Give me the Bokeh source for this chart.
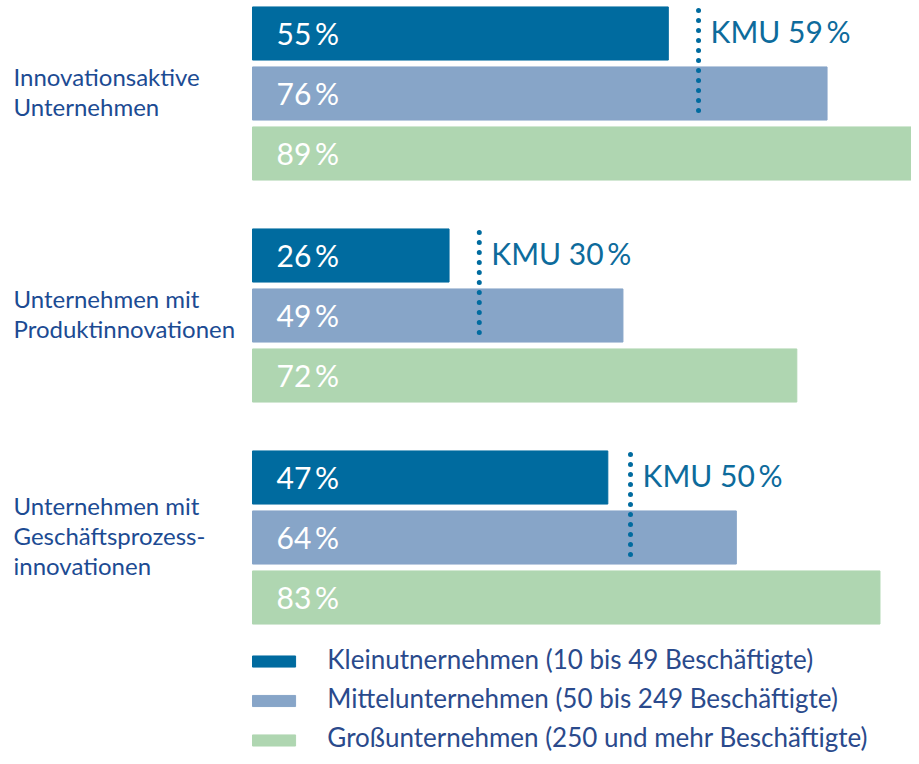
from bokeh.plotting import figure
from bokeh.models import Range1d, ColumnDataSource
from bokeh.core.properties import value
from bokeh.embed import file_html
from bokeh.resources import INLINE

# ---- data ----
categories = ["Innovationsaktive\nUnternehmen",
              "Unternehmen mit\nProduktinnovationen",
              "Unternehmen mit\nGeschäftsprozess-\ninnovationen"]
klein = [55, 26, 47]
mittel = [76, 49, 64]
gross = [89, 72, 83]
kmu = [59, 30, 50]
series_names = ["Kleinutnernehmen (10 bis 49 Beschäftigte)",
                "Mittelunternehmen (50 bis 249 Beschäftigte)",
                "Großunternehmen (250 und mehr Beschäftigte)"]
series_values = [klein, mittel, gross]
colors = ["#006b9f", "#87a5c8", "#afd6b1"]

# ---- layout ----
W, H = 911, 756
PX_PER_PCT = 7.56
X0 = 252          # px position of 0 %
ROW_PX = 60       # px per row unit
ROW0 = 33         # px of first row centre
GROUP_PITCH = 3.7
BAR_H = 0.885

FONT = "Lato"
TXT_BLUE = "#1c4b93"

p = figure(width=W, height=H, output_backend="svg", toolbar_location=None,
           x_range=Range1d(-X0 / PX_PER_PCT, (W - X0) / PX_PER_PCT),
           y_range=Range1d((H - ROW0) / ROW_PX, -ROW0 / ROW_PX),
           min_border=0)
p.axis.visible = False
p.grid.visible = False
p.outline_line_color = None
p.background_fill_color = "white"

x_left = -X0 / PX_PER_PCT

for s, (vals, col) in enumerate(zip(series_values, colors)):
    ys = [g * GROUP_PITCH + s for g in range(len(categories))]
    src = ColumnDataSource(dict(y=ys, right=vals,
                                label=[f"{v}\u2009%" for v in vals]))
    p.hbar(y="y", left=0, right="right", height=BAR_H, color=col, source=src)
    p.text(x=0, y="y", text="label", source=src, x_offset=24, y_offset=-1,
           text_color="white", text_font=value(FONT), text_font_size="30px",
           text_baseline="middle", text_align="left")

# KMU dotted reference lines
ym = [g * GROUP_PITCH for g in range(len(categories))]
p.segment(x0=kmu, y0=[y - 0.385 for y in ym], x1=kmu, y1=[y + 1.32 for y in ym],
          line_color="#006b9f", line_width=5, line_dash="0 10",
          line_cap="round")
kmu_src = ColumnDataSource(dict(x=kmu, ym=ym,
                                label=[f"KMU {v}\u2009%" for v in kmu]))
p.text(x="x", y="ym", text="label", source=kmu_src, x_offset=12, y_offset=-3,
       text_color="#0d6b9c", text_font=value(FONT), text_font_size="30px",
       text_baseline="middle", text_align="left")

# category labels
cat_src = ColumnDataSource(dict(
    x=[x_left] * len(categories),
    y=[g * GROUP_PITCH + 1 for g in range(len(categories))],
    text=categories))
p.text(x="x", y="y", text="text", source=cat_src, x_offset=13, y_offset=-2,
       text_color=TXT_BLUE, text_font=value(FONT), text_font_size="24px",
       text_baseline="middle", text_align="left", text_line_height=1.02)

# legend
LEG_Y0 = 10.467
LEG_PITCH = 0.658
leg_y = [LEG_Y0 + i * LEG_PITCH for i in range(len(series_names))]
leg_src = ColumnDataSource(dict(y=leg_y, color=colors, text=series_names))
p.hbar(y="y", left=0, right=5.7, height=0.185, color="color", source=leg_src)
p.text(x=9.9, y="y", text="text", source=leg_src, y_offset=-3,
       text_color="#2a4a8c", text_font=value(FONT), text_font_size="26px",
       text_baseline="middle", text_align="left")

open("out.html", "w").write(file_html(p, INLINE))
